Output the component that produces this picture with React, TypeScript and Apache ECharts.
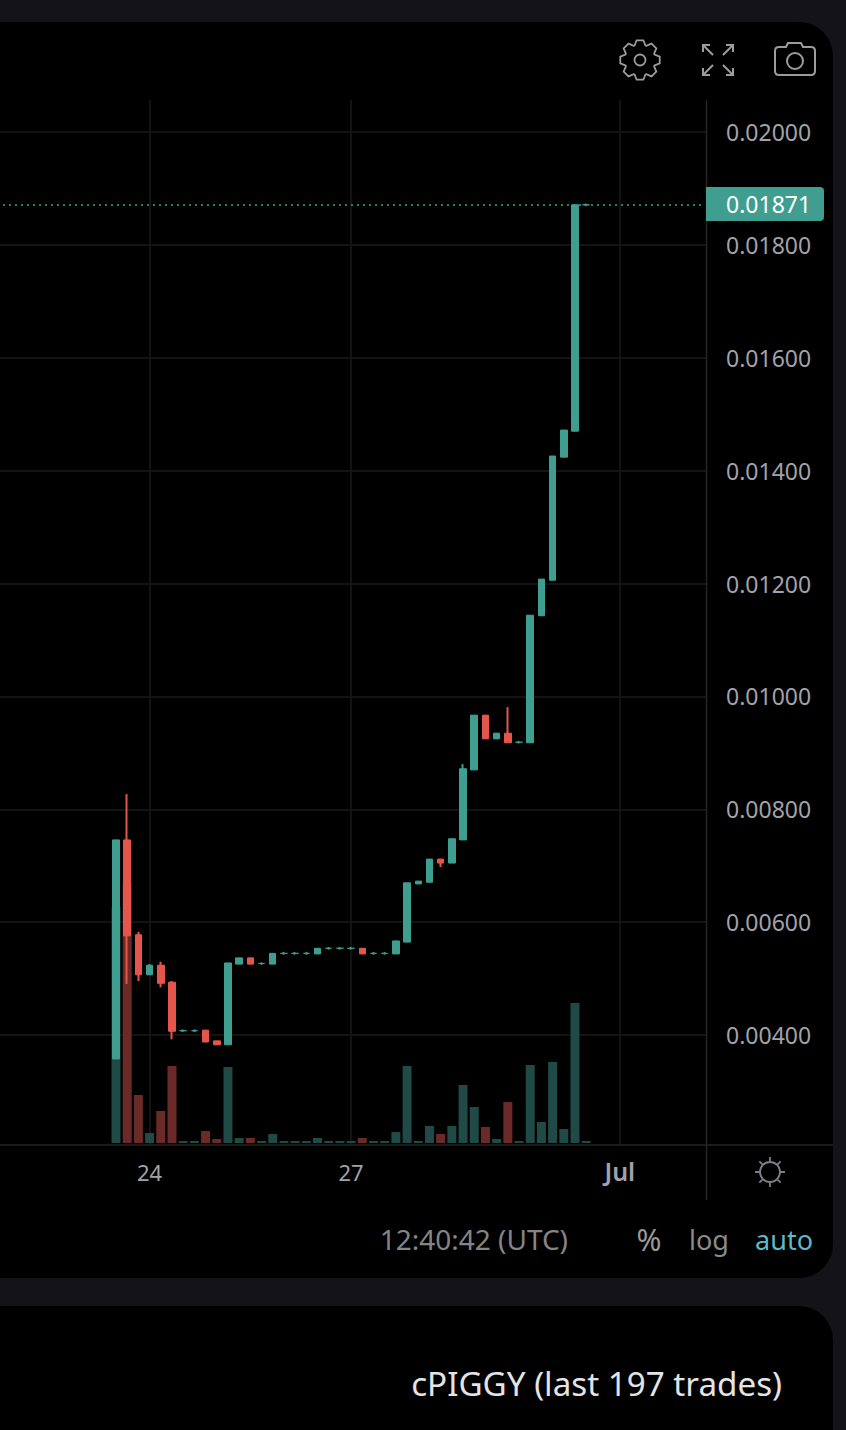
import React, { useEffect, useRef } from "react";
import * as echarts from "echarts";

// [open, close, low, high] — 4h candles
const candles: number[][] = [
  [0.00358, 0.00746, 0.00358, 0.00746],
  [0.00746, 0.00576, 0.00491, 0.00827],
  [0.00578, 0.00507, 0.00496, 0.00583],
  [0.00507, 0.00524, 0.00507, 0.00526],
  [0.00524, 0.00492, 0.00485, 0.0053],
  [0.00494, 0.00407, 0.00393, 0.00496],
  [0.00408, 0.00408, 0.00406, 0.0041],
  [0.00408, 0.00408, 0.00406, 0.0041],
  [0.00409, 0.00388, 0.00388, 0.00409],
  [0.0039, 0.00383, 0.00383, 0.0039],
  [0.00383, 0.00528, 0.00383, 0.00528],
  [0.00526, 0.00537, 0.00526, 0.00537],
  [0.00537, 0.00526, 0.00526, 0.00537],
  [0.00527, 0.00527, 0.00525, 0.00529],
  [0.00526, 0.00545, 0.00526, 0.00545],
  [0.00545, 0.00545, 0.00543, 0.00547],
  [0.00545, 0.00545, 0.00543, 0.00547],
  [0.00545, 0.00545, 0.00543, 0.00547],
  [0.00544, 0.00554, 0.00544, 0.00554],
  [0.00554, 0.00554, 0.00552, 0.00556],
  [0.00554, 0.00554, 0.00552, 0.00556],
  [0.00554, 0.00554, 0.00552, 0.00556],
  [0.00554, 0.00544, 0.00544, 0.00554],
  [0.00545, 0.00545, 0.00543, 0.00547],
  [0.00545, 0.00545, 0.00543, 0.00547],
  [0.00544, 0.00567, 0.00544, 0.00567],
  [0.00565, 0.0067, 0.00565, 0.0067],
  [0.00668, 0.00673, 0.00668, 0.00673],
  [0.00671, 0.00712, 0.00671, 0.00712],
  [0.00712, 0.00705, 0.00698, 0.00712],
  [0.00705, 0.00748, 0.00705, 0.00748],
  [0.00746, 0.00872, 0.00746, 0.0088],
  [0.0087, 0.00967, 0.0087, 0.00967],
  [0.00967, 0.00925, 0.00925, 0.00967],
  [0.00925, 0.00935, 0.00925, 0.00935],
  [0.00935, 0.00918, 0.00918, 0.00981],
  [0.00919, 0.00919, 0.00917, 0.00921],
  [0.00918, 0.01144, 0.00918, 0.01144],
  [0.01143, 0.01208, 0.01143, 0.01208],
  [0.01206, 0.01426, 0.01206, 0.01426],
  [0.01424, 0.01472, 0.01424, 0.01472],
  [0.0147, 0.01871, 0.0147, 0.01871],
  [0.01871, 0.01871, 0.01869, 0.01873],
];

const volumes: number[] = [
  236, 260, 48, 10, 32, 77, 2, 2, 12, 4, 76, 5, 5, 2, 9, 2, 2, 2, 5, 2, 2, 2,
  5, 2, 2, 11, 77, 2, 17, 9, 17, 58, 36, 16, 4, 41, 2, 78, 21, 81, 14, 140, 2,
];

const leadingSlots = 9;
const slotCount = 62;
const tickSlots = [12, 30, 54];
const tickLabels = ["24", "27", "{b|Jul}"];
const priceTicks = { min: 0.004, max: 0.02, interval: 0.002 };
const lastPrice = 0.01871;

const TEAL = "#409e90";
const RED = "#e4564c";
const VOL_TEAL = "#1f4a46";
const VOL_RED = "#6b2a28";
const GRID = "#131313";
const FONT = "Noto Sans";
const ICON = "#9c9c9c";

function gearPath(cx: number, cy: number) {
  const R = 20, r = 15.5, n = 8;
  let d = "";
  for (let i = 0; i < n; i++) {
    const a = (i / n) * Math.PI * 2 - Math.PI / 2;
    const pts: [number, number][] = [
      [r, a - 0.36], [R, a - 0.17], [R, a + 0.17], [r, a + 0.36],
    ];
    pts.forEach(([rad, t], j) => {
      const x = (cx + rad * Math.cos(t)).toFixed(2);
      const y = (cy + rad * Math.sin(t)).toFixed(2);
      d += (i === 0 && j === 0 ? "M" : "L") + x + " " + y + " ";
    });
  }
  d += "Z M" + (cx + 5.5) + " " + cy + " a5.5 5.5 0 1 0 -11 0 a5.5 5.5 0 1 0 11 0 Z";
  return d;
}

const expandPath =
  "M703 52 V45 H710 M703 45 L713 55 M733 52 V45 H726 M733 45 L723 55 " +
  "M703 68 V75 H710 M703 75 L713 65 M733 68 V75 H726 M733 75 L723 65";
const cameraPath =
  "M779 47 H786 L788 43 H801 L803 47 H811 Q815 47 815 51 V71 Q815 75 811 75 H779 Q775 75 775 71 V51 Q775 47 779 47 Z " +
  "M803 61 a8 8 0 1 0 -16 0 a8 8 0 1 0 16 0 Z";

function sunPath(cx: number, cy: number) {
  let d = "M" + (cx + 10) + " " + cy + " a10 10 0 1 0 -20 0 a10 10 0 1 0 20 0 Z ";
  for (let i = 0; i < 8; i++) {
    const a = (i / 8) * Math.PI * 2;
    d += "M" + (cx + 10 * Math.cos(a)).toFixed(2) + " " + (cy + 10 * Math.sin(a)).toFixed(2) + " ";
    d += "L" + (cx + 15 * Math.cos(a)).toFixed(2) + " " + (cy + 15 * Math.sin(a)).toFixed(2) + " ";
  }
  return d;
}

echarts.graphic.registerShape("gearIcon", echarts.graphic.extendPath(gearPath(640, 60), {}));
echarts.graphic.registerShape("expandIcon", echarts.graphic.extendPath(expandPath, {}));
echarts.graphic.registerShape("cameraIcon", echarts.graphic.extendPath(cameraPath, {}));
echarts.graphic.registerShape("sunIcon", echarts.graphic.extendPath(sunPath(770, 1172), {}));

export default function App() {
  const ref = useRef<HTMLDivElement>(null);

  useEffect(() => {
    const chart = echarts.init(ref.current!, undefined, { renderer: "svg" });
    const categories = Array.from({ length: slotCount }, (_, i) => "s" + i);
    const pad = Array.from({ length: leadingSlots }, () => ["-", "-", "-", "-"]);
    const padVol = Array.from({ length: leadingSlots }, () => null);
    const candleData = [...pad, ...candles];
    const volumeData = [
      ...padVol,
      ...volumes.map((v, i) => {
        const c = candles[i];
        return { value: v, itemStyle: { color: c[1] < c[0] ? VOL_RED : VOL_TEAL } };
      }),
    ];
    const plotLeft = 9.65;
    const plotWidth = 694.1;

    const text = (t: string, x: number, y: number, size: number, fill: string, align = "left", weight: any = "normal") => ({
      type: "text",
      x,
      y,
      z: 10,
      style: { text: t, fill, font: `${weight} ${size}px "${FONT}"`, textAlign: align, textVerticalAlign: "middle" },
    });
    const icon = (type: string, stroke: string, lineWidth: number) => ({
      type,
      z: 10,
      style: { fill: "none", stroke, lineWidth },
    });

    chart.setOption({
      animation: false,
      backgroundColor: "#131318",
      grid: [
        { left: plotLeft, width: plotWidth, top: 98.13, height: 1050 },
        { left: 3, width: 700, top: 132, height: 903 },
        { left: plotLeft, width: plotWidth, top: 100, height: 1045 },
        { left: 0, width: 706, top: 132, height: 903 },
      ],
      xAxis: [
        { type: "category", gridIndex: 0, data: categories, show: false },
        { type: "category", gridIndex: 1, data: categories, show: false },
        {
          type: "category",
          gridIndex: 2,
          data: categories,
          axisLine: { show: false },
          axisTick: { show: false },
          splitLine: {
            show: true,
            alignWithLabel: true,
            interval: (i: number) => tickSlots.includes(i),
            lineStyle: { color: GRID, width: 2 },
          },
          axisLabel: {
            interval: (i: number) => tickSlots.includes(i),
            formatter: (_: string, i: number) => tickLabels[tickSlots.indexOf(i)] ?? "",
            color: "#a2a2aa",
            fontFamily: FONT,
            fontSize: 22,
            margin: 16,
            rich: { b: { fontFamily: FONT, fontSize: 25, fontWeight: 600, color: "#a2a2aa", lineHeight: 20 } },
          },
        },
        { type: "category", gridIndex: 3, data: categories, show: false },
      ],
      yAxis: [
        { type: "value", gridIndex: 0, min: 0.002, max: 0.0206, show: false, splitLine: { show: false } },
        {
          type: "value",
          gridIndex: 1,
          min: priceTicks.min,
          max: priceTicks.max,
          interval: priceTicks.interval,
          show: false,
          splitLine: { show: false },
        },
        { type: "value", gridIndex: 2, min: -2, max: 1043, show: false, splitLine: { show: false } },
        {
          type: "value",
          gridIndex: 3,
          position: "right",
          min: priceTicks.min,
          max: priceTicks.max,
          interval: priceTicks.interval,
          axisLine: { show: false },
          axisTick: { show: false },
          splitLine: { show: true, lineStyle: { color: GRID, width: 2 } },
          axisLabel: {
            formatter: (v: number) => v.toFixed(5),
            color: "#a2a2aa",
            fontFamily: FONT,
            fontSize: 23,
            margin: 20,
          },
        },
      ],
      series: [
        {
          type: "bar",
          name: "Volume",
          xAxisIndex: 2,
          yAxisIndex: 2,
          data: volumeData,
          barWidth: 9,
          z: 1,
          silent: true,
        },
        {
          type: "candlestick",
          name: "Wicks",
          xAxisIndex: 0,
          yAxisIndex: 0,
          data: candleData,
          barWidth: 1,
          z: 2,
          silent: true,
          itemStyle: { color: TEAL, color0: RED, borderColor: TEAL, borderColor0: RED, borderWidth: 2 },
        },
        {
          type: "candlestick",
          name: "cPIGGY",
          xAxisIndex: 0,
          yAxisIndex: 0,
          data: candleData,
          barWidth: 7,
          z: 3,
          silent: true,
          itemStyle: { color: TEAL, color0: RED, borderColor: TEAL, borderColor0: RED, borderWidth: 1 },
        },
        {
          type: "line",
          name: "Last price",
          xAxisIndex: 1,
          yAxisIndex: 1,
          data: [],
          silent: true,
          markLine: {
            silent: true,
            symbol: "none",
            precision: 5,
            label: { show: false },
            lineStyle: { color: TEAL, type: [2, 4], width: 1.5, opacity: 1 },
            data: [{ yAxis: lastPrice }],
          },
        },
      ],
      graphic: [
        { type: "rect", z: -5, shape: { x: -60, y: 22, width: 893, height: 1256, r: 34 }, style: { fill: "#000" } },
        { type: "rect", z: -5, shape: { x: -60, y: 1306, width: 893, height: 300, r: 34 }, style: { fill: "#000" } },
        { type: "line", z: 5, shape: { x1: 0, y1: 1145, x2: 833, y2: 1145 }, style: { stroke: "#242424", lineWidth: 1.5 } },
        { type: "line", z: 5, shape: { x1: 706.5, y1: 100, x2: 706.5, y2: 1200 }, style: { stroke: "#242424", lineWidth: 1.5 } },
        {
          type: "rect",
          z: 9,
          shape: { x: 706, y: 187, width: 118, height: 34, r: [0, 4, 4, 0] },
          style: { fill: TEAL },
        },
        text(lastPrice.toFixed(5), 726, 204, 23, "#ffffff"),
        icon("gearIcon", ICON, 1.8),
        icon("expandIcon", ICON, 2),
        icon("cameraIcon", ICON, 2),
        icon("sunIcon", "#7e7e86", 1.8),
        text("12:40:42 (UTC)", 568, 1239, 28, "#858585", "right"),
        text("%", 649, 1239, 30, "#9a9a9a", "center"),
        text("log", 709, 1239, 27, "#8a8a8a", "center"),
        text("auto", 784, 1239, 27, "#5db9c6", "center"),
        text("cPIGGY (last 197 trades)", 782, 1383, 33.2, "#e4e4e4", "right"),
      ],
    });
    return () => chart.dispose();
  }, []);

  return (
    <div
      ref={ref}
      style={{ position: "absolute", left: 0, top: 0, width: 846, height: 1430, overflow: "hidden" }}
    />
  );
}
